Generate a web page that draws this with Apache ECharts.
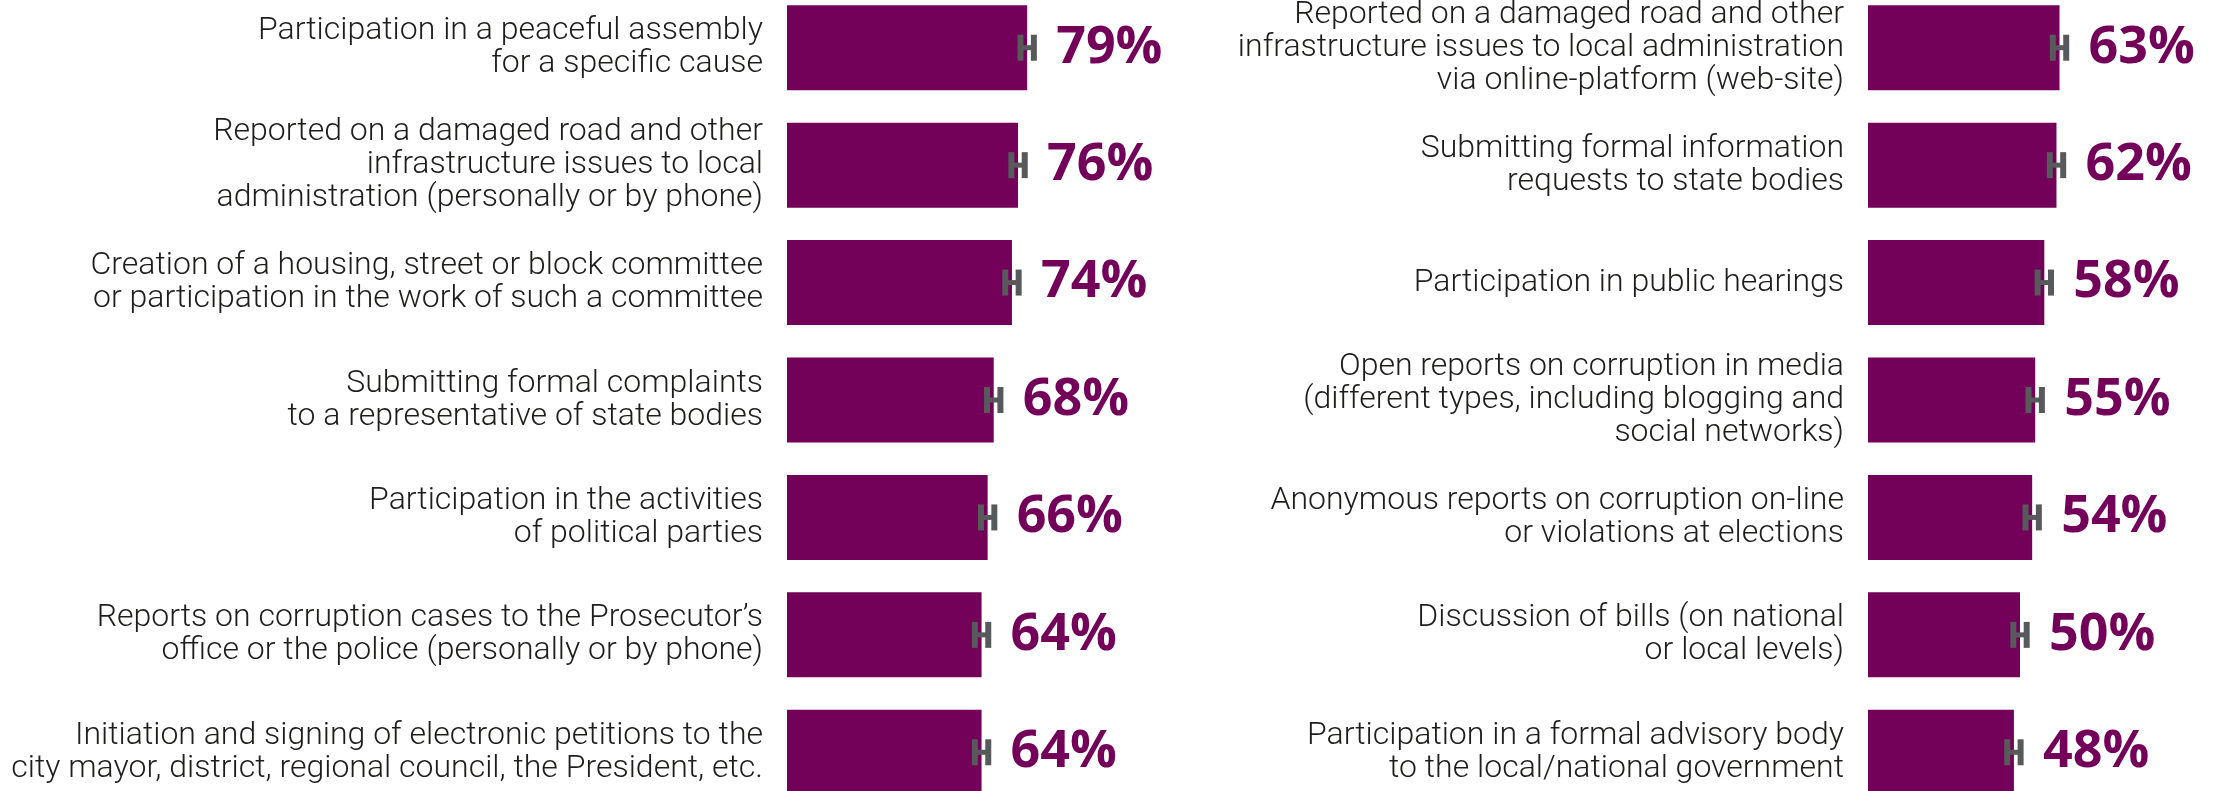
<!DOCTYPE html>
<html>
<head>
<meta charset="utf-8">
<script src="https://cdn.jsdelivr.net/npm/echarts@6/dist/echarts.min.js"></script>
<style>
  html, body { margin: 0; padding: 0; background: #fff; }
  #chart { width: 2218px; height: 791px; }
</style>
</head>
<body>
<div id="chart"></div>
<script>
// left panel
var leftCategories = [
  "Participation in a peaceful assembly\nfor a specific cause",
  "Reported on a damaged road and other\ninfrastructure issues to local\nadministration (personally or by phone)",
  "Creation of a housing, street or block committee\nor participation in the work of such a committee",
  "Submitting formal complaints\nto a representative of state bodies",
  "Participation in the activities\nof political parties",
  "Reports on corruption cases to the Prosecutor’s\noffice or the police (personally or by phone)",
  "Initiation and signing of electronic petitions to the\ncity mayor, district, regional council, the President, etc."
];
var leftValues = [79, 76, 74, 68, 66, 64, 64];

// right panel
var rightCategories = [
  "Reported on a damaged road and other\ninfrastructure issues to local administration\nvia online-platform (web-site)",
  "Submitting formal information\nrequests to state bodies",
  "Participation in public hearings",
  "Open reports on corruption in media\n(different types, including blogging and\nsocial networks)",
  "Anonymous reports on corruption on-line\nor violations at elections",
  "Discussion of bills (on national\nor local levels)",
  "Participation in a formal advisory body\nto the local/national government"
];
var rightValues = [63, 62, 58, 55, 54, 50, 48];

// margin of error, percentage points
var errorMargin = 2.2;

var purple = "#730059";
var grey = "#58595b";

var myChart = echarts.init(document.getElementById("chart"));

function catAxis(idx, data, pad) {
  return {
    type: "category",
    gridIndex: idx,
    inverse: true,
    data: data,
    axisLine: { show: false },
    axisTick: { show: false },
    axisLabel: {
      margin: 24,
      fontSize: 32,
      fontWeight: 300,
      lineHeight: 33,
      fontFamily: "Roboto",
      color: "#1d1d1b",
      padding: pad
    }
  };
}

function valAxis(idx) {
  return {
    type: "value",
    gridIndex: idx,
    min: 0,
    max: 100,
    show: false,
    splitLine: { show: false }
  };
}

function barSeries(idx, values) {
  return {
    type: "bar",
    xAxisIndex: idx,
    yAxisIndex: idx,
    data: values,
    barWidth: 85,
    itemStyle: { color: purple },
    label: {
      show: true,
      position: "right",
      distance: 29,
      formatter: "{c}%",
      fontFamily: "Open Sans",
      fontWeight: "bold",
      fontSize: 52,
      color: purple
    }
  };
}

function errorSeries(idx, values) {
  var data = values.map(function (v, i) { return [v, i]; });
  return {
    type: "custom",
    xAxisIndex: idx,
    yAxisIndex: idx,
    data: data,
    z: 5,
    renderItem: function (params, api) {
      var v = api.value(0), i = api.value(1);
      var lo = api.coord([v - errorMargin, i]);
      var hi = api.coord([v + errorMargin, i]);
      var st = { fill: grey };
      return {
        type: "group",
        children: [
          { type: "rect", shape: { x: lo[0] - 3, y: lo[1] - 13, width: 6, height: 26 }, style: st },
          { type: "rect", shape: { x: hi[0] - 3, y: hi[1] - 13, width: 6, height: 26 }, style: st },
          { type: "rect", shape: { x: lo[0], y: lo[1] - 2.5, width: hi[0] - lo[0], height: 5 }, style: st }
        ]
      };
    }
  };
}

myChart.setOption({
  animation: false,
  grid: [
    { left: 787, width: 304, top: -11, height: 822, outerBoundsMode: "none" },
    { left: 1868, width: 304, top: -11, height: 822, outerBoundsMode: "none" }
  ],
  xAxis: [valAxis(0), valAxis(1)],
  yAxis: [catAxis(0, leftCategories, [0, 0, 14, 0]), catAxis(1, rightCategories, 0)],
  series: [
    barSeries(0, leftValues),
    barSeries(1, rightValues),
    errorSeries(0, leftValues),
    errorSeries(1, rightValues)
  ]
});
</script>
</body>
</html>
